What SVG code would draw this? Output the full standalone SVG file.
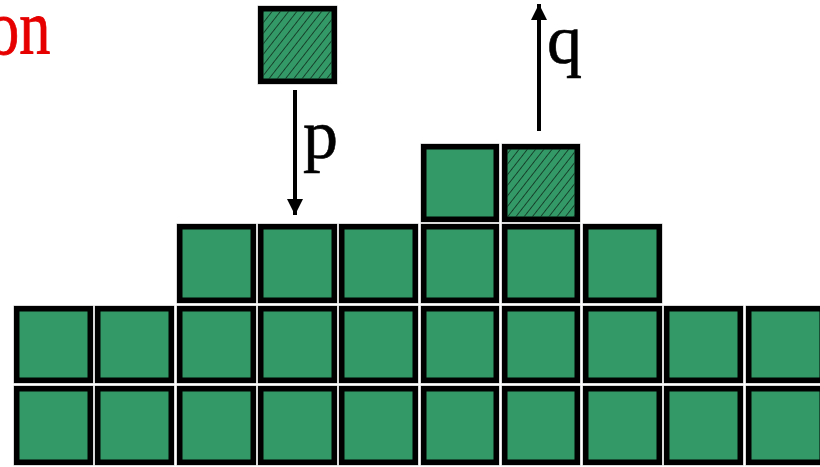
<svg xmlns="http://www.w3.org/2000/svg" width="820" height="467" viewBox="0 0 820 467">
<style>
.o{fill:none;stroke:#b4b4b4;stroke-width:1}
.sq{fill:#339966;stroke:#000;stroke-width:5.5}
.h{fill:url(#hatch);stroke:none}
.lbl{font-family:"Liberation Serif","Times New Roman",serif;font-size:70px;fill:#000;stroke:#000;stroke-width:0.6}
.title{font-family:"Liberation Serif","Times New Roman",serif;font-size:78px;fill:#e60000;stroke:#e60000;stroke-width:0.8}
.arr{stroke:#000;stroke-width:4;fill:none}
</style>
<defs>
<pattern id="hatch" width="6.5" height="6.5" patternUnits="userSpaceOnUse" patternTransform="rotate(38)">
<line x1="0" y1="0" x2="0" y2="6.5" stroke="#000" stroke-width="1.1"/>
</pattern>
<marker id="ah" viewBox="0 0 10 10" refX="10" refY="5" markerWidth="4" markerHeight="4.5" markerUnits="strokeWidth" orient="auto">
<path d="M0,0 L10,5 L0,10 z" fill="#000"/>
</marker>
</defs>
<rect width="820" height="467" fill="#fff"/>
<text class="title" x="63" y="54" text-anchor="end" transform="scale(0.8 1)">on</text>

<g id="moving-p"><rect class="o" x="258" y="6" width="79" height="78"/><rect class="sq" x="260.75" y="8.75" width="73.5" height="72.5"/><rect class="h" x="263.5" y="11.5" width="68" height="67"/></g>

<g id="t1"><rect class="o" x="421" y="144" width="78" height="78"/><rect class="sq" x="423.75" y="146.75" width="72.5" height="72.5"/></g>
<g id="t2-q"><rect class="o" x="502" y="144" width="78" height="78"/><rect class="sq" x="504.75" y="146.75" width="72.5" height="72.5"/><rect class="h" x="507.5" y="149.5" width="67" height="67"/></g>

<g id="r3c2"><rect class="o" x="177" y="224" width="79" height="79"/><rect class="sq" x="179.75" y="226.75" width="73.5" height="73.5"/></g>
<g id="r3c3"><rect class="o" x="258" y="224" width="79" height="79"/><rect class="sq" x="260.75" y="226.75" width="73.5" height="73.5"/></g>
<g id="r3c4"><rect class="o" x="339" y="224" width="79" height="79"/><rect class="sq" x="341.75" y="226.75" width="73.5" height="73.5"/></g>
<g id="r3c5"><rect class="o" x="421" y="224" width="78" height="79"/><rect class="sq" x="423.75" y="226.75" width="72.5" height="73.5"/></g>
<g id="r3c6"><rect class="o" x="502" y="224" width="78" height="79"/><rect class="sq" x="504.75" y="226.75" width="72.5" height="73.5"/></g>
<g id="r3c7"><rect class="o" x="583" y="224" width="79" height="79"/><rect class="sq" x="585.75" y="226.75" width="73.5" height="73.5"/></g>

<g id="r2c0"><rect class="o" x="14" y="306" width="79" height="77"/><rect class="sq" x="16.75" y="308.75" width="73.5" height="71.5"/></g>
<g id="r2c1"><rect class="o" x="95" y="306" width="79" height="77"/><rect class="sq" x="97.75" y="308.75" width="73.5" height="71.5"/></g>
<g id="r2c2"><rect class="o" x="177" y="306" width="79" height="77"/><rect class="sq" x="179.75" y="308.75" width="73.5" height="71.5"/></g>
<g id="r2c3"><rect class="o" x="258" y="306" width="79" height="77"/><rect class="sq" x="260.75" y="308.75" width="73.5" height="71.5"/></g>
<g id="r2c4"><rect class="o" x="339" y="306" width="79" height="77"/><rect class="sq" x="341.75" y="308.75" width="73.5" height="71.5"/></g>
<g id="r2c5"><rect class="o" x="421" y="306" width="78" height="77"/><rect class="sq" x="423.75" y="308.75" width="72.5" height="71.5"/></g>
<g id="r2c6"><rect class="o" x="502" y="306" width="78" height="77"/><rect class="sq" x="504.75" y="308.75" width="72.5" height="71.5"/></g>
<g id="r2c7"><rect class="o" x="583" y="306" width="79" height="77"/><rect class="sq" x="585.75" y="308.75" width="73.5" height="71.5"/></g>
<g id="r2c8"><rect class="o" x="664" y="306" width="79" height="77"/><rect class="sq" x="666.75" y="308.75" width="73.5" height="71.5"/></g>
<g id="r2c9"><rect class="o" x="746" y="306" width="79" height="77"/><rect class="sq" x="748.75" y="308.75" width="73.5" height="71.5"/></g>

<g id="r1c0"><rect class="o" x="14" y="386" width="79" height="79"/><rect class="sq" x="16.75" y="388.75" width="73.5" height="73.5"/></g>
<g id="r1c1"><rect class="o" x="95" y="386" width="79" height="79"/><rect class="sq" x="97.75" y="388.75" width="73.5" height="73.5"/></g>
<g id="r1c2"><rect class="o" x="177" y="386" width="79" height="79"/><rect class="sq" x="179.75" y="388.75" width="73.5" height="73.5"/></g>
<g id="r1c3"><rect class="o" x="258" y="386" width="79" height="79"/><rect class="sq" x="260.75" y="388.75" width="73.5" height="73.5"/></g>
<g id="r1c4"><rect class="o" x="339" y="386" width="79" height="79"/><rect class="sq" x="341.75" y="388.75" width="73.5" height="73.5"/></g>
<g id="r1c5"><rect class="o" x="421" y="386" width="78" height="79"/><rect class="sq" x="423.75" y="388.75" width="72.5" height="73.5"/></g>
<g id="r1c6"><rect class="o" x="502" y="386" width="78" height="79"/><rect class="sq" x="504.75" y="388.75" width="72.5" height="73.5"/></g>
<g id="r1c7"><rect class="o" x="583" y="386" width="79" height="79"/><rect class="sq" x="585.75" y="388.75" width="73.5" height="73.5"/></g>
<g id="r1c8"><rect class="o" x="664" y="386" width="79" height="79"/><rect class="sq" x="666.75" y="388.75" width="73.5" height="73.5"/></g>
<g id="r1c9"><rect class="o" x="746" y="386" width="79" height="79"/><rect class="sq" x="748.75" y="388.75" width="73.5" height="73.5"/></g>

<g id="connectors">
<line class="arr" x1="295" y1="90" x2="295" y2="215" marker-end="url(#ah)"/>
<line class="arr" x1="539" y1="131" x2="539" y2="4" marker-end="url(#ah)"/>
</g>
<g id="labels">
<text class="lbl" x="303" y="158">p</text>
<text class="lbl" x="547" y="63">q</text>
</g>
</svg>
